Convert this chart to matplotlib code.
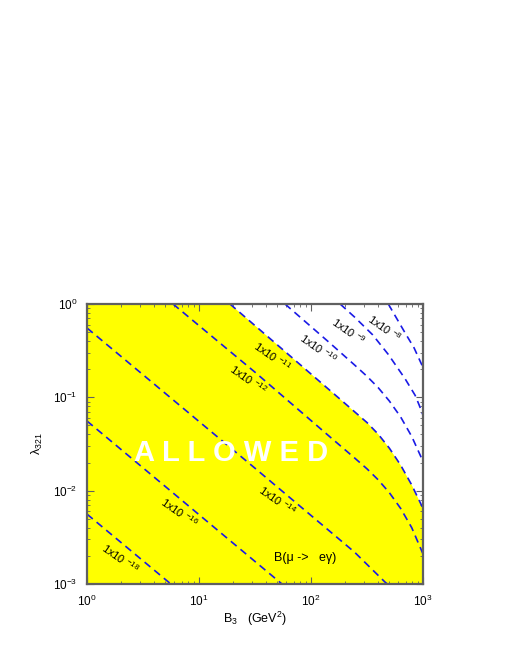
import matplotlib
matplotlib.use("Agg")
import matplotlib.pyplot as plt
import numpy as np

plt.rcParams['font.family'] = ['Liberation Sans', 'DejaVu Sans']
plt.rcParams['mathtext.fontset'] = 'custom'
plt.rcParams['mathtext.rm'] = 'Liberation Sans'
plt.rcParams['mathtext.it'] = 'Liberation Sans:italic'
plt.rcParams['mathtext.bf'] = 'Liberation Sans:bold'

# Contour curves of B(mu -> e gamma) (B3 in GeV^2, lambda_321)
c18_x = [1.0, 5.6]
c18_y = [5.6e-3, 1.0e-3]
c16_x = [1.0, 55.0]
c16_y = [0.0557, 1.0e-3]
c14_x = [1.0, 31.6, 245.0, 457.0, 480.0]
c14_y = [0.553, 0.0174, 2.19e-3, 1.05e-3, 1.0e-3]
c12_x = [5.86, 31.6, 148.0, 245.0, 316.0, 398.0, 501.0, 631.0, 794.0, 1000.0]
c12_y = [1.0, 0.186, 0.0376, 0.0224, 0.01714, 0.01306, 9.5e-3, 6.46e-3, 4.0e-3, 2.1e-3]
c11_x = [18.9, 52.5, 186.0, 316.0, 398.0, 501.0, 631.0, 794.0, 1000.0]
c11_y = [1.0, 0.347, 0.0933, 0.0537, 0.0403, 0.0285, 0.0188, 0.01148, 6.46e-3]
c10_x = [58.6, 148.0, 245.0, 316.0, 398.0, 501.0, 631.0, 794.0, 1000.0]
c10_y = [1.0, 0.38, 0.222, 0.168, 0.127, 0.0912, 0.0617, 0.038, 0.0206]
c9_x = [182.0, 245.0, 355.0, 490.0, 692.0, 851.0, 923.0, 1000.0]
c9_y = [1.0, 0.724, 0.468, 0.288, 0.158, 0.105, 0.083, 0.0646]
c8_x = [490.0, 692.0, 832.0, 1000.0]
c8_y = [1.0, 0.49, 0.339, 0.209]

curves = [(c18_x, c18_y), (c16_x, c16_y), (c14_x, c14_y), (c12_x, c12_y),
          (c11_x, c11_y), (c10_x, c10_y), (c9_x, c9_y), (c8_x, c8_y)]

labels = ['18', '16', '14', '12', '11', '10', '9', '8']
label_x = [1.97, 6.63, 49.7, 27.4, 44.9, 115.0, 214.0, 457.0]
label_y = [1.9e-3, 5.9e-3, 7.94e-3, 0.157, 0.277, 0.33, 0.514, 0.553]

x_min, x_max = 1.0, 1000.0
y_min, y_max = 1.0e-3, 1.0

fig = plt.figure(figsize=(5.10, 6.60), dpi=100)
ax = fig.add_axes([0.1706, 0.1152, 0.6588, 0.4242])
ax.set_xscale('log')
ax.set_yscale('log')
ax.set_xlim(x_min, x_max)
ax.set_ylim(y_min, y_max)

# allowed (yellow) region: below the 1e-11 curve
fx = [x_min, x_min] + c11_x + [x_max]
fy = [y_min, y_max] + c11_y + [y_min]
ax.fill(fx, fy, color='#ffff00', zorder=1, lw=0)

for cx, cy in curves:
    ax.plot(cx, cy, color='#1a1ae6', lw=1.2, ls=(0, (4.5, 3)), zorder=3)

for lab, lx, ly in zip(labels, label_x, label_y):
    ax.text(lx, ly, '1x10 $^{-' + lab + '}$', rotation=-35, ha='center', va='center',
            fontsize=8, color='black', zorder=4, rotation_mode='anchor')

ax.text(0.43, 0.468, 'A L L O W E D', transform=ax.transAxes, ha='center', va='center',
        fontsize=21, fontweight='bold', color='white', zorder=5)
ax.text(0.649, 0.093, 'B(μ ->   eγ)', transform=ax.transAxes, ha='center',
        va='center', fontsize=9, color='black', zorder=5)

for sp in ax.spines.values():
    sp.set_color('#606060')
    sp.set_linewidth(1.6)
    sp.set_zorder(6)

ax.tick_params(which='both', direction='in', top=True, right=True, colors='#606060',
               labelcolor='black', labelsize=8.5)
ax.tick_params(which='major', length=5, width=0.8, pad=7)
ax.tick_params(which='minor', length=2.5, width=0.6)

ax.set_xlabel('B$_3$   (GeV$^2$)', fontsize=9, labelpad=1)
ax.set_ylabel('λ$_{321}$', fontsize=9, labelpad=6)

fig.savefig('out.png', dpi=100)
